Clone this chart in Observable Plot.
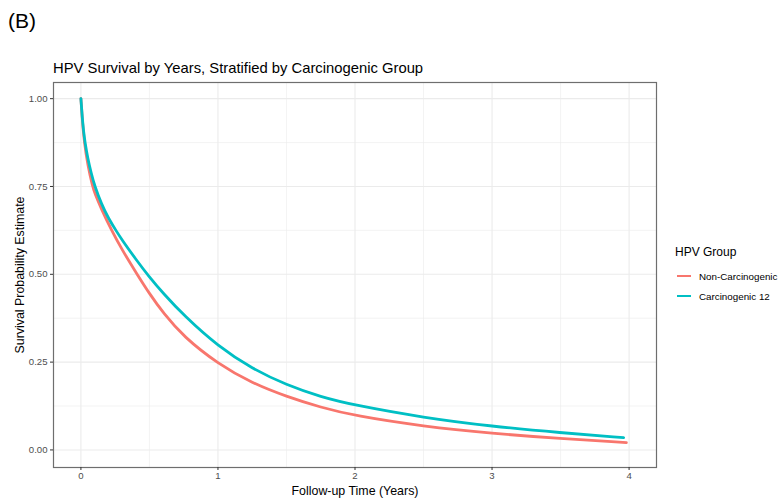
<!DOCTYPE html>
<html>
<head>
<meta charset="utf-8">
<script src="https://cdn.jsdelivr.net/npm/d3@7"></script>
<script src="https://cdn.jsdelivr.net/npm/@observablehq/plot@0.6"></script>
<style>
  body { margin: 0; background: #fff; font-family: "Liberation Sans", Arial, Helvetica, sans-serif; }
  #wrap { position: relative; width: 783px; height: 502px; overflow: hidden; }
  #chart { position: absolute; left: 0; top: 0; }
  .abs { position: absolute; white-space: nowrap; line-height: 1; color: #000; }
  #panelLabel { left: 8px; top: 10px; font-size: 21px; }
  #title { left: 53px; top: 61px; font-size: 14.8px; }
  #legend { position: absolute; left: 675px; top: 246px; }
  #legend .lt { font-size: 12px; color: #000; line-height: 1; margin-bottom: 8px; }
  #legend .row { display: flex; align-items: center; height: 20px; }
  #legend .key { width: 14px; height: 2.8px; margin-left: 2px; margin-right: 8px; }
  #legend .lab { font-size: 9.8px; color: #000; }
</style>
</head>
<body>
<div id="wrap">
  <div id="chart"></div>
  <div class="abs" id="panelLabel">(B)</div>
  <div class="abs" id="title">HPV Survival by Years, Stratified by Carcinogenic Group</div>
  <div id="legend"></div>
</div>
<script>
// ---- data ----
const groups = ["Non-Carcinogenic", "Carcinogenic 12"];
const groupColors = ["#F8766D", "#00BFC4"];

const timeNonCarcinogenic = [0, 0.01, 0.025, 0.05, 0.085, 0.1, 0.15, 0.224, 0.3, 0.41, 0.5, 0.6, 0.75, 1, 1.25, 1.5, 1.75, 2, 2.5, 3, 3.5, 3.98];
const survNonCarcinogenic = [1.0, 0.94, 0.875, 0.81, 0.75, 0.732, 0.685, 0.625, 0.57, 0.5, 0.445, 0.39, 0.322, 0.245, 0.19, 0.152, 0.121, 0.097, 0.067, 0.047, 0.032, 0.021];

const timeCarcinogenic12 = [0, 0.01, 0.02, 0.03, 0.05, 0.075, 0.1, 0.15, 0.2, 0.26, 0.3, 0.4, 0.5, 0.6, 0.75, 1, 1.25, 1.5, 1.75, 2, 2.5, 3, 3.5, 3.96];
const survCarcinogenic12 = [1.0, 0.945, 0.905, 0.875, 0.83, 0.788, 0.752, 0.70, 0.66, 0.622, 0.598, 0.543, 0.492, 0.446, 0.383, 0.295, 0.231, 0.185, 0.151, 0.127, 0.092, 0.067, 0.049, 0.035];

const xTicks = [0, 1, 2, 3, 4];
const xMinor = [0.5, 1.5, 2.5, 3.5];
const yTicks = [0, 0.25, 0.5, 0.75, 1.0];
const yMinor = [0.125, 0.375, 0.625, 0.875];
const xTickLabels = ["0", "1", "2", "3", "4"];
const yTickLabels = ["0.00", "0.25", "0.50", "0.75", "1.00"];

// ---- build tidy table ----
const rows = [];
timeNonCarcinogenic.forEach((t, i) => rows.push({time: t, surv: survNonCarcinogenic[i], group: groups[0]}));
timeCarcinogenic12.forEach((t, i) => rows.push({time: t, surv: survCarcinogenic12[i], group: groups[1]}));

const W = 783, H = 502;
const plot = Plot.plot({
  width: W,
  height: H,
  marginLeft: 53,
  marginRight: 127,
  marginTop: 82,
  marginBottom: 35,
  style: {fontFamily: "Liberation Sans, Arial, Helvetica, sans-serif", background: "#fff"},
  x: {domain: [-0.2, 4.2]},
  y: {domain: [-0.05, 1.046]},
  color: {domain: groups, range: groupColors},
  marks: [
    Plot.gridX(xMinor, {stroke: "#ebebeb", strokeOpacity: 1, strokeWidth: 0.6}),
    Plot.gridY(yMinor, {stroke: "#ebebeb", strokeOpacity: 1, strokeWidth: 0.6}),
    Plot.gridX(xTicks, {stroke: "#ebebeb", strokeOpacity: 1, strokeWidth: 1.1}),
    Plot.gridY(yTicks, {stroke: "#ebebeb", strokeOpacity: 1, strokeWidth: 1.1}),
    Plot.line(rows, {x: "time", y: "surv", stroke: "group", z: "group", strokeWidth: 2.8, curve: "basis"}),
    Plot.frame({stroke: "#6e6e6e", strokeWidth: 1.2}),
    Plot.axisX(xTicks, {
      tickSize: 3, tickPadding: 2, fontSize: 9.6, color: "#4d4d4d", stroke: "#333",
      tickFormat: (d) => xTickLabels[xTicks.indexOf(d)],
      label: "Follow-up Time (Years)", labelAnchor: "center", labelArrow: "none", labelOffset: 27
    }),
    Plot.axisY(yTicks, {
      tickSize: 3, tickPadding: 3, fontSize: 9.6, color: "#4d4d4d", stroke: "#333",
      tickFormat: (d) => yTickLabels[yTicks.indexOf(d)],
      label: "Survival Probability Estimate", labelAnchor: "center", labelArrow: "none", labelOffset: 38
    })
  ]
});
document.getElementById("chart").appendChild(plot);

// axis titles: larger and black like ggplot
plot.querySelectorAll("g[aria-label='x-axis label'] text, g[aria-label='y-axis label'] text").forEach(t => {
  t.setAttribute("font-size", "12.4");
  t.setAttribute("fill", "#000");
});

// ---- legend ----
const lg = document.getElementById("legend");
const lt = document.createElement("div");
lt.className = "lt";
lt.textContent = "HPV Group";
lg.appendChild(lt);
groups.forEach((g, i) => {
  const r = document.createElement("div");
  r.className = "row";
  const k = document.createElement("div");
  k.className = "key";
  k.style.background = groupColors[i];
  const l = document.createElement("div");
  l.className = "lab";
  l.textContent = g;
  r.appendChild(k); r.appendChild(l);
  lg.appendChild(r);
});
</script>
</body>
</html>
